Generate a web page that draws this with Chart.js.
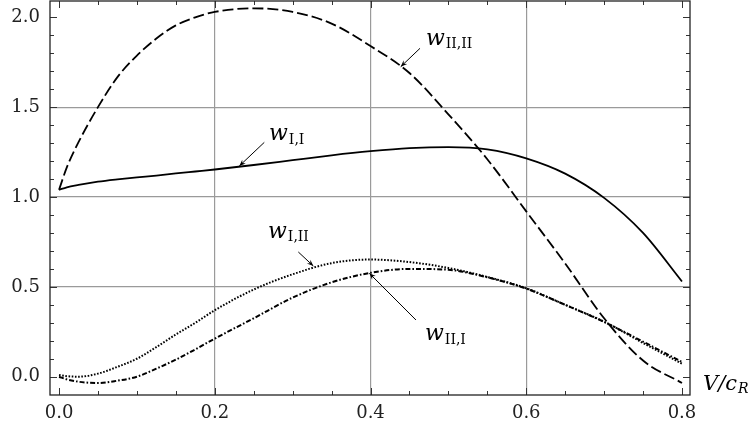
<!DOCTYPE html>
<html>
<head>
<meta charset="utf-8">
<script src="https://cdn.jsdelivr.net/npm/chart.js@4"></script>
<style>
  html, body { margin: 0; padding: 0; background: #fff; }
</style>
</head>
<body>
<canvas id="myChart" width="753" height="431"></canvas>
<script>
// V/c_R sample points and the four w curves
var xValues = [0, 0.01, 0.025, 0.05, 0.075, 0.1, 0.125, 0.15, 0.175, 0.2, 0.25, 0.3, 0.35, 0.4, 0.45, 0.5, 0.55, 0.6, 0.65, 0.7, 0.75, 0.8];
var wII_II = [1.04, 1.165, 1.305, 1.50, 1.667, 1.787, 1.882, 1.955, 2.0, 2.03, 2.05, 2.03, 1.965, 1.84, 1.69, 1.46, 1.21, 0.92, 0.63, 0.325, 0.09, -0.035];
var wI_I   = [1.04, 1.054, 1.067, 1.085, 1.098, 1.109, 1.119, 1.131, 1.142, 1.153, 1.178, 1.205, 1.232, 1.255, 1.272, 1.278, 1.265, 1.215, 1.13, 0.995, 0.80, 0.53];
var wI_II  = [0.01, 0.003, 0.0, 0.017, 0.055, 0.10, 0.165, 0.235, 0.30, 0.37, 0.485, 0.57, 0.632, 0.652, 0.638, 0.605, 0.555, 0.492, 0.40, 0.306, 0.188, 0.072];
var wII_I  = [0.0, -0.015, -0.028, -0.035, -0.022, 0.0, 0.045, 0.095, 0.152, 0.212, 0.325, 0.44, 0.525, 0.578, 0.60, 0.595, 0.553, 0.49, 0.40, 0.305, 0.195, 0.082];

var xTicks = [0, 0.2, 0.4, 0.6, 0.8];
var yTicks = [0, 0.5, 1.0, 1.5, 2.0];

// curve labels: text position and arrow (tail -> head), in data units
var notes = [
  { sub: "II,II", tx: 0.4712, ty: 1.846, ax: 0.4636, ay: 1.8275, hx: 0.4388, hy: 1.725 },
  { sub: "I,I",   tx: 0.2697, ty: 1.317, ax: 0.2636, ay: 1.304,  hx: 0.2315, hy: 1.1725 },
  { sub: "I,II",  tx: 0.2684, ty: 0.772, ax: 0.3073, ay: 0.694,  hx: 0.3266, hy: 0.616 },
  { sub: "II,I",  tx: 0.470,  ty: 0.204, ax: 0.4584, ay: 0.3155, hx: 0.3985, hy: 0.5754 }
];

var serif = '"DejaVu Serif", serif';

function pts(ys) {
  return xValues.map(function (x, i) { return { x: x, y: ys[i] }; });
}

function line(ys, dash, width) {
  return {
    data: pts(ys),
    borderColor: "#000",
    borderWidth: width,
    borderDash: dash,
    pointRadius: 0,
    fill: false,
    cubicInterpolationMode: "monotone"
  };
}

function gridColor(edges) {
  return function (c) {
    if (!c.tick) return "transparent";
    return edges.indexOf(c.tick.value) >= 0 ? "transparent" : "#9a9a9a";
  };
}

// fixed axis sizes, no extra room for edge labels
function fixSize(w, h) {
  return function (s) {
    if (w) s.width = w;
    if (h) s.height = h;
    s.paddingTop = s.paddingBottom = s.paddingLeft = s.paddingRight = 0;
  };
}

function arrow(ctx, x1, y1, x2, y2) {
  var ang = Math.atan2(y2 - y1, x2 - x1), len = 7, spread = 0.38;
  ctx.beginPath();
  ctx.moveTo(x1, y1);
  ctx.lineTo(x2, y2);
  ctx.stroke();
  ctx.beginPath();
  ctx.moveTo(x2 - len * Math.cos(ang - spread), y2 - len * Math.sin(ang - spread));
  ctx.lineTo(x2, y2);
  ctx.lineTo(x2 - len * Math.cos(ang + spread), y2 - len * Math.sin(ang + spread));
  ctx.lineTo(x2 - 0.6 * len * Math.cos(ang), y2 - 0.6 * len * Math.sin(ang));
  ctx.closePath();
  ctx.fill();
}

function subLabel(ctx, x, y, main, sub, mainFont, subFont, drop) {
  ctx.font = mainFont;
  ctx.fillText(main, x, y);
  var w = ctx.measureText(main).width;
  ctx.font = subFont;
  ctx.fillText(sub, x + w + 1, y + drop);
}

var frameAndNotes = {
  id: "frameAndNotes",
  afterDatasetsDraw: function (chart) {
    var ctx = chart.ctx, a = chart.chartArea, xs = chart.scales.x, ys = chart.scales.y;
    ctx.save();

    // inward ticks on every side
    ctx.strokeStyle = "#333";
    ctx.lineWidth = 1;
    ctx.beginPath();
    for (var i = 0; i <= 16; i++) {
      var px = Math.round(xs.getPixelForValue(i * 0.05)) + 0.5;
      var tl = i % 4 === 0 ? 7 : 4;
      ctx.moveTo(px, a.bottom); ctx.lineTo(px, a.bottom - tl);
      ctx.moveTo(px, a.top); ctx.lineTo(px, a.top + tl);
    }
    for (var j = 0; j <= 20; j++) {
      var py = Math.round(ys.getPixelForValue(j * 0.1)) + 0.5;
      var tl2 = j % 5 === 0 ? 7 : 4;
      ctx.moveTo(a.left, py); ctx.lineTo(a.left + tl2, py);
      ctx.moveTo(a.right, py); ctx.lineTo(a.right - tl2, py);
    }
    ctx.stroke();

    ctx.strokeStyle = "#222";
    ctx.lineWidth = 1.3;
    ctx.strokeRect(a.left, a.top, a.right - a.left, a.bottom - a.top);

    // curve names with arrows
    ctx.fillStyle = "#000";
    ctx.strokeStyle = "#000";
    ctx.lineWidth = 1;
    ctx.textBaseline = "alphabetic";
    ctx.textAlign = "left";
    notes.forEach(function (n) {
      arrow(ctx, xs.getPixelForValue(n.ax), ys.getPixelForValue(n.ay),
                 xs.getPixelForValue(n.hx), ys.getPixelForValue(n.hy));
      subLabel(ctx, xs.getPixelForValue(n.tx), ys.getPixelForValue(n.ty),
               "w", n.sub, "italic 22px " + serif, "14px " + serif, 3.5);
    });

    // x axis title
    subLabel(ctx, a.right + 13, a.bottom - 5, "V/c", "R",
             "italic 21px " + serif, "italic 14px " + serif, 3);
    ctx.restore();
  }
};

new Chart("myChart", {
  type: "line",
  data: {
    datasets: [
      line(wII_II, [11, 4], 1.8),
      line(wI_I, [], 1.8),
      line(wI_II, [1.6, 1.6], 2),
      line(wII_I, [5, 2, 1.6, 2], 2)
    ]
  },
  options: {
    responsive: false,
    animation: false,
    layout: { autoPadding: false, padding: { top: 1, right: 63, left: 0, bottom: 0 } },
    plugins: {
      legend: { display: false },
      tooltip: { enabled: false }
    },
    scales: {
      x: {
        type: "linear",
        min: -0.0116,
        max: 0.8103,
        afterBuildTicks: function (s) { s.ticks = xTicks.map(function (v) { return { value: v }; }); },
        afterFit: fixSize(0, 36),
        ticks: {
          autoSkip: false,
          maxRotation: 0,
          padding: 8,
          color: "#222",
          font: { family: serif, size: 18 },
          callback: function (v) { return v.toFixed(1); }
        },
        grid: { color: gridColor([0, 0.8]), lineWidth: 1.2, drawTicks: false },
        border: { display: false }
      },
      y: {
        min: -0.1018,
        max: 2.0907,
        afterBuildTicks: function (s) { s.ticks = yTicks.map(function (v) { return { value: v }; }); },
        afterFit: fixSize(50, 0),
        ticks: {
          padding: 10,
          color: "#222",
          font: { family: serif, size: 18 },
          callback: function (v) { return v.toFixed(1); }
        },
        grid: { color: gridColor([0, 2]), lineWidth: 1.2, drawTicks: false },
        border: { display: false }
      }
    }
  },
  plugins: [frameAndNotes]
});
</script>
</body>
</html>
